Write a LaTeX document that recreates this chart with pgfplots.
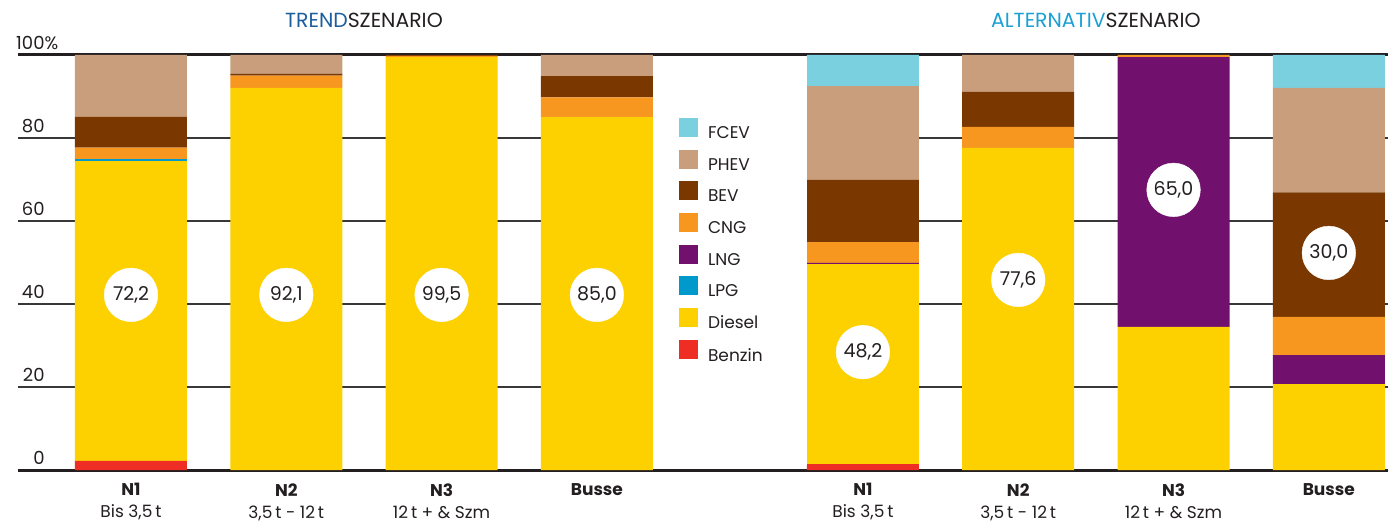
\documentclass[border=0pt]{standalone}
\usepackage{pgfplots}
\pgfplotsset{compat=1.18}
\usepackage{pgfplotstable}
\usepackage{fontspec}
\setmainfont{Poppins}
\definecolor{fcev}{HTML}{7BD0E0}
\definecolor{phev}{HTML}{C89E7C}
\definecolor{bev}{HTML}{7A3800}
\definecolor{cng}{HTML}{F79720}
\definecolor{lng}{HTML}{72106E}
\definecolor{lpg}{HTML}{0099CC}
\definecolor{diesel}{HTML}{FDD100}
\definecolor{benzin}{HTML}{EE2E24}
\definecolor{trendblue}{HTML}{1B5E9E}
\definecolor{altblue}{HTML}{1AA0D3}
\definecolor{txt}{HTML}{231F20}

\pgfplotstableread{
x Benzin Diesel LPG LNG CNG BEV PHEV FCEV
0     2.2 72.2 0.5 0    2.8 7.4  14.9 0
1     0   92.1 0   0    2.9 0.5  4.5  0
2     0   99.5 0   0    0.3 0.2  0    0
3     0   85.0 0   0    4.8 5.1  5.1  0
4.713 1.4 48.2 0   0.3  5.0 15.0 22.6 7.5
5.713 0   77.6 0   0    5.1 8.4  8.9  0
6.713 0   34.5 0   65.0 0.5 0    0    0
7.713 0   20.7 0   7.0  9.2 30.0 25.2 7.9
}\data

\pgfplotstableread{
x y label
0     42.2 72,2
1     42.2 92,1
2     42.2 99,5
3     42.2 85,0
4.713 28.4 48,2
5.713 45.8 77,6
6.713 67.5 65,0
7.713 52.3 30,0
}\labels

\pgfplotsset{
  common/.style={
    scale only axis, width=685pt, height=207.5pt,
    xmin=-0.7276, xmax=8.094, ymin=0, ymax=100,
    clip=false,
  }
}

\begin{document}
\begin{tikzpicture}
\begin{axis}[common,
  ybar stacked, bar width=56pt,
  axis line style={draw=none},
  major tick length=0pt,
  ytick={0,20,40,60,80,100},
  yticklabels={0,20,40,60,80,100\rlap{\%}},
  yticklabel style={anchor=south east, inner sep=0pt, xshift=13.5pt, yshift=2.5pt, font=\fontsize{9}{10}\selectfont, text=txt},
  ymajorgrids, grid style={line width=1pt, color=black!78},
  extra y ticks={0,100}, extra y tick labels={},
  extra y tick style={grid style={line width=1.5pt, color=txt}},
  xtick={0,1,2,3,4.713,5.713,6.713,7.713},
  xticklabels={{\bfseries N1\\Bis 3,5\,t},{\bfseries N2\\3,5\,t - 12\,t},{\bfseries N3\\12\,t + \& Szm},{\bfseries Busse},
               {\bfseries N1\\Bis 3,5\,t},{\bfseries N2\\3,5\,t - 12\,t},{\bfseries N3\\12\,t + \& Szm},{\bfseries Busse}},
  xticklabel style={align=center, anchor=north, inner sep=0pt, yshift=-6.5pt, font=\fontsize{8.5}{11}\selectfont, text=txt},
  legend image code/.code={\fill[#1] (0pt,-1.6pt) rectangle (9.5pt,7.9pt); \path (14.5pt,0pt);},
  reverse legend,
  legend cell align=left,
  legend style={at={(axis cs:3.529,84.8)}, anchor=north west, draw=none, fill=none,
    inner sep=0pt, outer sep=0pt, row sep=4.2pt,
    nodes={inner sep=0pt, text=txt}, font=\fontsize{8.5}{10}\selectfont},
]
% white gap between the two scenario groups (grid lines are interrupted there)
\fill[white] (axis cs:3.3606,1.2) rectangle (axis cs:4.3524,98.8);
\addplot[fill=benzin, draw=none] table[x=x, y=Benzin] {\data};
\addplot[fill=diesel, draw=none] table[x=x, y=Diesel] {\data};
\addplot[fill=lpg, draw=none] table[x=x, y=LPG] {\data};
\addplot[fill=lng, draw=none] table[x=x, y=LNG] {\data};
\addplot[fill=cng, draw=none] table[x=x, y=CNG] {\data};
\addplot[fill=bev, draw=none] table[x=x, y=BEV] {\data};
\addplot[fill=phev, draw=none] table[x=x, y=PHEV] {\data};
\addplot[fill=fcev, draw=none] table[x=x, y=FCEV] {\data};
\legend{Benzin,Diesel,LPG,LNG,CNG,BEV,PHEV,FCEV}
\node[font=\fontsize{10.2}{12}\selectfont, text=txt] at (axis cs:1.5,108.4) {\textcolor{trendblue}{TREND}SZENARIO};
\node[font=\fontsize{10.2}{12}\selectfont, text=txt] at (axis cs:6.213,108.4) {\textcolor{altblue}{ALTERNATIV}SZENARIO};
\end{axis}
\begin{axis}[common, hide axis]
\addplot[only marks, draw=white, fill=white, mark=*, mark size=13.4pt, mark options={fill=white, draw=white, line width=0.2pt},
  point meta=explicit symbolic,
  nodes near coords,
  every node near coord/.style={anchor=center, inner sep=0pt, font=\fontsize{9.5}{11}\selectfont, text=txt}]
  table[x=x, y=y, meta=label] {\labels};
\end{axis}
\pgfresetboundingbox
\path[use as bounding box] (-9pt,-27.5pt) rectangle (685pt,235pt);
\end{tikzpicture}
\end{document}
